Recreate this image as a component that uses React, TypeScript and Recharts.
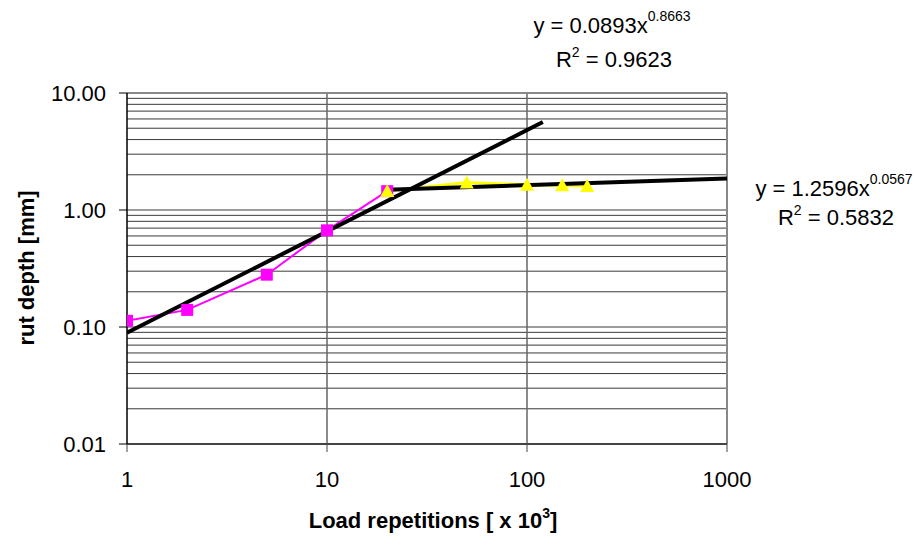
import { ComposedChart, Line, XAxis, YAxis, ReferenceLine } from "recharts";

// rut depth tests, log-log
const magentaX = [1, 2, 5, 10, 20];
const magentaY = [0.113, 0.14, 0.28, 0.67, 1.45];

const yellowX = [20, 50, 100, 150, 200];
const yellowY = [1.45, 1.72, 1.64, 1.63, 1.6];

// trendline end points (power fits, straight on log-log)
const trend1X = [1, 120];
const trend1Y = [0.0893, 5.65];
const trend2X = [20, 1000];
const trend2Y = [1.49, 1.86];

const xTicks = [1, 10, 100, 1000];
const yTicks = [0.01, 0.1, 1, 10];
const verticalGrid = [10, 100];
const horizontalGrid = [
  0.02, 0.03, 0.04, 0.05, 0.06, 0.07, 0.08, 0.09, 0.1,
  0.2, 0.3, 0.4, 0.5, 0.6, 0.7, 0.8, 0.9, 1,
  2, 3, 4, 5, 6, 7, 8, 9,
];

const toPoints = (xs: number[], ys: number[]) => xs.map((x, i) => ({ x, y: ys[i] }));

const FONT = "'Liberation Sans', Arial, sans-serif";

const Square = (props: any) => {
  const { cx, cy } = props;
  if (cx == null || cy == null) return null;
  return <rect x={cx - 6} y={cy - 6} width={12} height={12} fill="#FF00FF" />;
};

const Triangle = (props: any) => {
  const { cx, cy } = props;
  if (cx == null || cy == null) return null;
  return <polygon points={`${cx},${cy - 7} ${cx + 7},${cy + 6} ${cx - 7},${cy + 6}`} fill="#FFFF00" />;
};

export default function App() {
  return (
    <div style={{ position: "fixed", left: 0, top: 0, width: 917, height: 537, background: "#fff" }}>
      <ComposedChart width={917} height={537} margin={{ top: 93, right: 190, bottom: 0, left: 0 }}>
        {horizontalGrid.map((v) => (
          <ReferenceLine key={"h" + v} y={v} stroke="#3a3a3a" strokeWidth={1} />
        ))}
        {verticalGrid.map((v) => (
          <ReferenceLine key={"v" + v} x={v} stroke="#666" strokeWidth={1.5} />
        ))}
        <ReferenceLine y={10} stroke="#888" strokeWidth={2} />
        <ReferenceLine x={1000} stroke="#888" strokeWidth={2} />
        <XAxis
          dataKey="x"
          type="number"
          scale="log"
          domain={[1, 1000]}
          ticks={xTicks}
          allowDataOverflow
          height={93}
          axisLine={{ stroke: "#444", strokeWidth: 2 }}
          tickLine={{ stroke: "#444" }}
          tickSize={8}
          tickMargin={19}
          tick={{ fontSize: 22, fill: "#000", fontFamily: FONT }}
        />
        <YAxis
          dataKey="y"
          type="number"
          scale="log"
          domain={[0.01, 10]}
          ticks={yTicks}
          allowDataOverflow
          width={127}
          axisLine={{ stroke: "#000", strokeWidth: 1.5 }}
          tickLine={{ stroke: "#000" }}
          tickSize={8}
          tickMargin={13}
          tickFormatter={(v: number) => v.toFixed(2)}
          tick={{ fontSize: 22, fill: "#000", fontFamily: FONT }}
        />
        <Line
          data={toPoints(magentaX, magentaY)}
          dataKey="y"
          type="linear"
          stroke="#FF00FF"
          strokeWidth={2}
          dot={<Square />}
          isAnimationActive={false}
        />
        <Line
          data={toPoints(yellowX, yellowY)}
          dataKey="y"
          type="linear"
          stroke="#FFFF00"
          strokeWidth={3}
          dot={<Triangle />}
          isAnimationActive={false}
        />
        <Line
          data={toPoints(trend1X, trend1Y)}
          dataKey="y"
          type="linear"
          stroke="#000"
          strokeWidth={4}
          dot={false}
          isAnimationActive={false}
        />
        <Line
          data={toPoints(trend2X, trend2Y)}
          dataKey="y"
          type="linear"
          stroke="#000"
          strokeWidth={4}
          dot={false}
          isAnimationActive={false}
        />
      </ComposedChart>
      <svg
        width={917}
        height={537}
        style={{ position: "absolute", left: 0, top: 0, pointerEvents: "none" }}
        fontFamily={FONT}
      >
        <text transform="translate(34,268) rotate(-90)" textAnchor="middle" fontSize={22} fontWeight="bold">
          rut depth [mm]
        </text>
        <text x={433} y={528} textAnchor="middle" fontSize={22} fontWeight="bold">
          Load repetitions [ x 10
          <tspan fontSize={14} dy={-10}>3</tspan>
          <tspan dy={10}>]</tspan>
        </text>
        <text x={612} y={33} textAnchor="middle" fontSize={22}>
          y = 0.0893x
          <tspan fontSize={14} dy={-12}>0.8663</tspan>
        </text>
        <text x={614} y={67} textAnchor="middle" fontSize={22}>
          R<tspan fontSize={14} dy={-10}>2</tspan>
          <tspan dy={10}> = 0.9623</tspan>
        </text>
        <text x={834} y={196} textAnchor="middle" fontSize={22}>
          y = 1.2596x
          <tspan fontSize={14} dy={-12}>0.0567</tspan>
        </text>
        <text x={836} y={225} textAnchor="middle" fontSize={22}>
          R<tspan fontSize={14} dy={-10}>2</tspan>
          <tspan dy={10}> = 0.5832</tspan>
        </text>
      </svg>
    </div>
  );
}
